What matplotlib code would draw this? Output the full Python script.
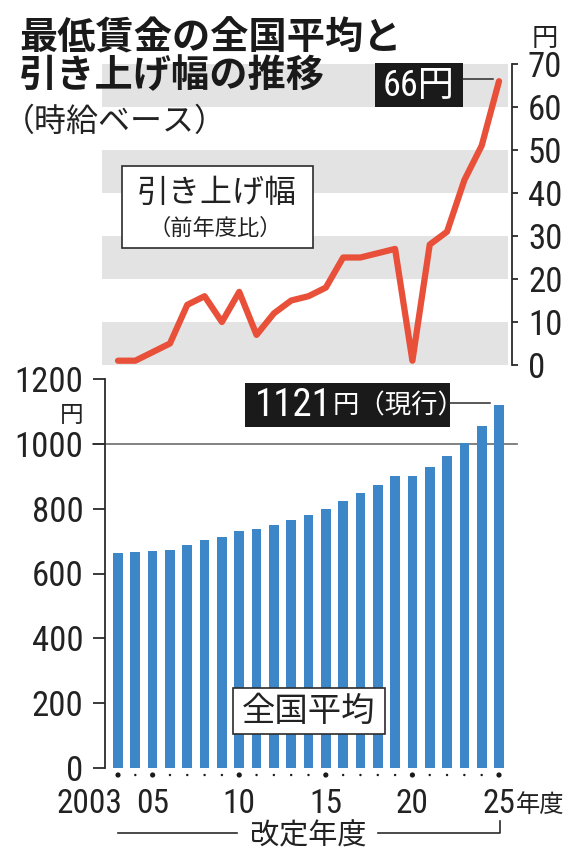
import matplotlib
matplotlib.use('Agg')
import matplotlib.pyplot as plt
from matplotlib import font_manager as fm
from matplotlib.patches import Rectangle
from matplotlib.lines import Line2D
from matplotlib.transforms import blended_transform_factory

# ---------------- data ----------------
years = [2003, 2004, 2005, 2006, 2007, 2008, 2009, 2010, 2011, 2012, 2013, 2014,
         2015, 2016, 2017, 2018, 2019, 2020, 2021, 2022, 2023, 2024, 2025]
wage = [664, 665, 668, 673, 687, 703, 713, 730, 737, 749, 764, 780,
        798, 823, 848, 874, 901, 902, 930, 961, 1004, 1055, 1121]
raise_yen = [1, 1, 3, 5, 14, 16, 10, 17, 7, 12, 15, 16,
             18, 25, 25, 26, 27, 1, 28, 31, 43, 51, 66]
wage_ticks = [0, 200, 400, 600, 800, 1000, 1200]
raise_ticks = [0, 10, 20, 30, 40, 50, 60, 70]
label_years = [2003, 2005, 2010, 2015, 2020, 2025]
label_texts = ['2003', '05', '10', '15', '20', '25']

# ---------------- fonts ----------------
JP = 'Noto Sans CJK JP'


def _w(v):
    m = {'normal': 400, 'regular': 400, 'book': 400, 'medium': 500,
         'light': 300, 'bold': 700, 'semibold': 600}
    if isinstance(v, (int, float)):
        return v
    return m.get(str(v).lower(), 400)


def pick_narrow():
    pref = ['Liberation Sans Narrow', 'Roboto Condensed', 'Open Sans Condensed',
            'Noto Sans Condensed', 'DejaVu Sans Condensed', 'Roboto',
            'Open Sans', 'Noto Sans', 'DejaVu Sans', 'Inter', 'Lato']
    best, best_score = None, None
    for f in fm.fontManager.ttflist:
        st = f.stretch
        cond = ('Narrow' in f.name) or ('Condensed' in f.name) or \
            (isinstance(st, str) and 'condensed' in st and 'semi' not in st) or \
            (isinstance(st, (int, float)) and st < 500)
        if not cond or f.style != 'normal':
            continue
        if 'Mono' in f.name or 'Serif' in f.name:
            continue
        score = abs(_w(f.weight) - 400) / 100.0
        score += pref.index(f.name) * 0.1 if f.name in pref else 5
        if best_score is None or score < best_score:
            best, best_score = f, score
    return best


nf = pick_narrow()
if nf is not None:
    NUM, NSTRETCH, NSCALE = nf.name, nf.stretch, 1.0
else:
    NUM, NSTRETCH, NSCALE = 'Liberation Sans', 'normal', 0.88


def numfp(size, weight='normal'):
    return fm.FontProperties(family=[NUM, JP], stretch=NSTRETCH,
                             size=size * NSCALE, weight=weight)


W, H = 580, 860
fig = plt.figure(figsize=(W / 100, H / 100), dpi=100)
fig.patch.set_facecolor('white')


def fx(px):
    return px / W


def fy(py):
    return 1 - py / H


DARK = '#2b2b2b'
RED = '#e8503a'
BLUE = '#3d86c8'
GREY = '#e3e3e3'
TXT = '#222222'

# ---------------- top chart (raise) ----------------
ax1 = fig.add_axes([fx(102), fy(365), (512 - 102) / W, (365 - 64) / H])
ax1.patch.set_visible(False)
ax1.set_xlim(2002.076, 2025.751)
ax1.set_ylim(0, 70)
for lo in (0, 20, 40, 60):
    ax1.axhspan(lo, lo + 10, xmin=0, xmax=406 / 410, color=GREY, lw=0, zorder=0)
ax1.plot(years, raise_yen, color=RED, lw=4.5, solid_joinstyle='round',
         solid_capstyle='round', clip_on=False, zorder=3)
for s in ('left', 'top', 'bottom'):
    ax1.spines[s].set_visible(False)
ax1.spines['right'].set_color(DARK)
ax1.spines['right'].set_linewidth(1.3)
ax1.yaxis.tick_right()
ax1.set_yticks(raise_ticks)
ax1.set_yticklabels([str(v) for v in raise_ticks])
ax1.set_xticks([])
ax1.tick_params(axis='y', direction='out', length=4.5, width=1.3, color=DARK,
                pad=7, labelcolor=TXT)
for t in ax1.get_yticklabels():
    t.set_fontproperties(numfp(25))

# ---------------- bottom chart (wage) ----------------
ax2 = fig.add_axes([fx(105), fy(768), (517 - 105) / W, (768 - 379) / H])
ax2.patch.set_visible(False)
ax2.set_xlim(2002.249, 2026.04)
ax2.set_ylim(0, 1200)
ax2.bar(years, wage, width=0.56, color=BLUE, zorder=2)
ax2.axhline(1000, xmin=-12 / 412, xmax=1, color='#777777', lw=1.3,
            clip_on=False, zorder=1)
for s in ('right', 'top', 'bottom'):
    ax2.spines[s].set_visible(False)
ax2.spines['left'].set_color(DARK)
ax2.spines['left'].set_linewidth(1.3)
ax2.set_yticks(wage_ticks)
ax2.set_yticklabels([str(v) for v in wage_ticks])
ax2.set_xticks([])
ax2.tick_params(axis='y', direction='out', length=8.6, width=1.3, color=DARK,
                pad=7, labelcolor=TXT)
for t in ax2.get_yticklabels():
    t.set_fontproperties(numfp(25))

tb = blended_transform_factory(ax2.transData, fig.transFigure)
big = [y in label_years for y in years]
ax2.scatter(years, [fy(775)] * len(years), s=[14 if b else 3 for b in big],
            color='#1a1a1a', transform=tb, clip_on=False, zorder=4, lw=0)
for yr, txt in zip(label_years, label_texts):
    if yr == 2003:
        ax2.text(yr + 0.23, fy(813), txt, transform=tb, ha='right',
                 va='baseline', fontproperties=numfp(24), color=TXT)
    else:
        ax2.text(yr, fy(813), txt, transform=tb, ha='center', va='baseline',
                 fontproperties=numfp(24), color=TXT)
ax2.text(2025 + 17 / 17.318, fy(812), '年度', transform=tb, ha='left',
         va='baseline', fontsize=17.5, family=JP, color=TXT)

# bracket under x labels
fig.add_artist(Line2D([fx(118), fx(237)], [fy(833), fy(833)],
                      transform=fig.transFigure, color=DARK, lw=1.2))
fig.add_artist(Line2D([fx(378), fx(500), fx(500)], [fy(833), fy(833), fy(821)],
                      transform=fig.transFigure, color=DARK, lw=1.2))
fig.text(fx(308), fy(836), '改定年度', ha='center', va='center', fontsize=21,
         family=JP, color=TXT)

# ---------------- titles ----------------
fig.text(fx(19), fy(38), '最低賃金の全国平均と', ha='left', va='center',
         fontsize=27.5, weight='bold', family=JP, color='#1a1a1a')
fig.text(fx(19), fy(76), '引き上げ幅の推移', ha='left', va='center',
         fontsize=27.5, weight='bold', family=JP, color='#1a1a1a')
fig.text(fx(3), fy(122), '（時給ベース）', ha='left', va='center',
         fontsize=23, family=JP, color=TXT)

# unit labels
fig.text(fx(545), fy(38), '円', ha='center', va='center', fontsize=19,
         family=JP, color=TXT)
fig.text(fx(72), fy(415), '円', ha='center', va='center', fontsize=17,
         family=JP, color=TXT)

# ---------------- annotation boxes ----------------
# 66円
fig.add_artist(Rectangle((fx(375), fy(107)), (463 - 375) / W, (107 - 63) / H,
                         transform=fig.transFigure, facecolor='#1a1a1a',
                         edgecolor='none', zorder=2))
fig.text(fx(419), fy(86), '66円', ha='center', va='center',
         fontproperties=numfp(26), color='white', zorder=4)
fig.add_artist(Line2D([fx(463), fx(493)], [fy(79), fy(79)],
                      transform=fig.transFigure, color=DARK, lw=1.1))

# 1121円（現行）
fig.add_artist(Rectangle((fx(245), fy(427)), (450 - 245) / W, (427 - 383) / H,
                         transform=fig.transFigure, facecolor='#1a1a1a',
                         edgecolor='none', zorder=2))
t1 = fig.text(fx(255), fy(406), '1121', ha='left', va='center',
              fontproperties=numfp(28), color='white', zorder=4)
fig.canvas.draw()
r = fig.canvas.get_renderer()
bb = t1.get_window_extent(r)
fig.text(bb.x1 / W + 0.001, fy(406), '円（現行）', ha='left', va='center',
         fontsize=19, family=JP, color='white', zorder=4)
fig.add_artist(Line2D([fx(450), fx(490)], [fy(403), fy(403)],
                      transform=fig.transFigure, color=DARK, lw=1.1))

# 引き上げ幅 box
fig.add_artist(Rectangle((fx(122), fy(248)), (313 - 122) / W, (248 - 166) / H,
                         transform=fig.transFigure, facecolor='white',
                         edgecolor=DARK, lw=1.2, zorder=2))
fig.text(fx(217), fy(193), '引き上げ幅', ha='center', va='center', fontsize=23,
         family=JP, color=TXT, zorder=4)
fig.text(fx(215), fy(228), '（前年度比）', ha='center', va='center', fontsize=16,
         family=JP, color=TXT, zorder=4)

# 全国平均 box
fig.add_artist(Rectangle((fx(233), fy(734)), (385 - 233) / W, (734 - 688) / H,
                         transform=fig.transFigure, facecolor='white',
                         edgecolor=DARK, lw=1.2, zorder=2))
fig.text(fx(309), fy(711), '全国平均', ha='center', va='center', fontsize=24,
         family=JP, color=TXT, zorder=4)

fig.savefig('out.png', dpi=100, facecolor='white')
